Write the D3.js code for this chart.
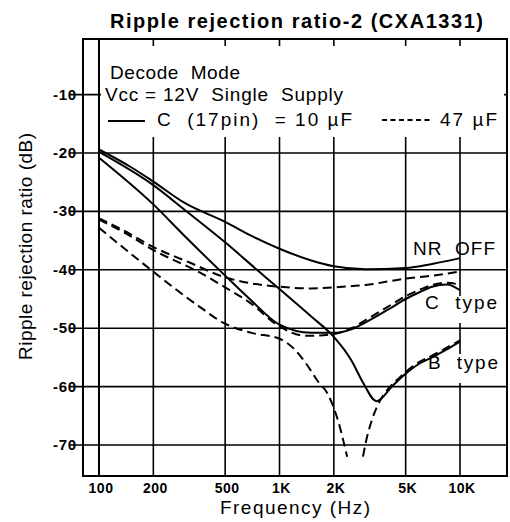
<!DOCTYPE html>
<html><head><meta charset="utf-8">
<script src="https://cdn.jsdelivr.net/npm/d3@7"></script>
<style>
body{margin:0;background:#fff}
svg{display:block}
text{font-family:"Liberation Sans",Arial,Helvetica,sans-serif;fill:#000;white-space:pre}
</style>
</head><body><svg id="c" width="510" height="522"></svg>
<script>
// ---- data ----
const xTicks = [100, 200, 500, 1000, 2000, 5000, 10000];
const xTickLabels = ["100", "200", "500", "1K", "2K", "5K", "10K"];
const yTicks = [-10, -20, -30, -40, -50, -60, -70];
const yTickLabels = ["-10", "-20", "-30", "-40", "-50", "-60", "-70"];

// C(17pin) = 10 µF (solid)
const nrOff10 = [[100,-19.4],[150,-22.4],[200,-24.9],[300,-28.6],[500,-31.8],[700,-34.2],[1000,-36.4],[1500,-38.4],[2000,-39.4],[3000,-39.9],[5000,-39.7],[7000,-39.0],[10000,-38.0]];
const cType10 = [[100,-20.8],[200,-28.8],[300,-34.3],[500,-41.0],[700,-45.3],[1000,-49.4],[1500,-50.8],[2000,-50.8],[2500,-50.2],[3000,-49.0],[4000,-46.8],[5000,-45.0],[6000,-43.8],[7000,-42.9],[8500,-42.5],[10000,-43.5]];
const bType10 = [[100,-19.8],[200,-25.5],[300,-29.8],[500,-35.3],[750,-40.0],[1000,-43.3],[1500,-48.0],[2000,-51.5],[2500,-55.5],[2900,-59.3],[3450,-62.5],[4250,-59.8],[5000,-57.8],[6000,-56.0],[7000,-55.0],[8500,-53.6],[10000,-52.3]];

// C(17pin) = 47 µF (dashed)
const nrOff47 = [[100,-31.2],[136,-33.2],[200,-36.1],[320,-38.8],[490,-41.2],[690,-42.3],[1000,-42.9],[1500,-43.2],[2000,-43.0],[3000,-42.6],[5000,-41.5],[7000,-41.0],[10000,-40.3]];
const cType47 = [[100,-31.4],[136,-33.5],[200,-36.6],[363,-40.5],[500,-43.0],[690,-45.7],[1000,-49.7],[1400,-51.3],[2000,-51.0],[2500,-50.0],[3000,-48.6],[4000,-46.3],[5000,-44.5],[6000,-43.4],[7000,-42.6],[8500,-42.2],[10000,-42.6]];
const bType47Low = [[100,-32.8],[185,-39.5],[363,-46.4],[490,-49.1],[700,-50.8],[1000,-51.8],[1200,-53.5],[1400,-56.0],[1650,-59.3],[1830,-61.0],[2080,-65.2],[2370,-72.0]];
const bType47High = [[2900,-72.0],[3000,-69.7],[3250,-65.7],[3500,-63.2],[4100,-60.0],[4650,-58.4],[5000,-57.5],[6000,-55.7],[7000,-54.7],[8500,-53.3],[10000,-52.1]];

// ---- chart ----
const svg = d3.select("#c");
svg.append("rect").attr("width",510).attr("height",522).attr("fill","#fff");

const x = d3.scaleLog().domain([100, 10000]).range([99, 460]);
const y = d3.scaleLinear().domain([-20, -70]).range([153, 445]);
const frame = {left: 83, right: 507, top: 39, bottom: 476, tickLeft: 69};

const g = svg.append("g");

// vertical grid lines
g.selectAll("line.vg").data(xTicks).join("line")
  .attr("x1", d => x(d)).attr("x2", d => x(d))
  .attr("y1", frame.top).attr("y2", frame.bottom)
  .attr("stroke", "#000").attr("stroke-width", d => d === 100 ? 2 : 1.6);

// horizontal grid lines
g.selectAll("line.hg").data(yTicks).join("line")
  .attr("x1", frame.tickLeft).attr("x2", frame.right)
  .attr("y1", d => y(d)).attr("y2", d => y(d))
  .attr("stroke", "#000").attr("stroke-width", 1.6);

// frame
g.append("path")
  .attr("d", `M${frame.left},${frame.top}H${frame.right}V${frame.bottom}H${frame.left}Z`)
  .attr("fill", "none").attr("stroke", "#000").attr("stroke-width", 2);

// legend background (hides grid behind legend)
g.append("rect").attr("x", 101).attr("y", 46).attr("width", 403).attr("height", 91).attr("fill", "#fff");

// label backgrounds
g.append("rect").attr("x", 420).attr("y", 296).attr("width", 84).attr("height", 27).attr("fill", "#fff");
g.append("rect").attr("x", 420).attr("y", 354).attr("width", 84).attr("height", 29).attr("fill", "#fff");

// curves
const line = d3.line()
  .x(d => x(d[0])).y(d => y(d[1]))
  .curve(d3.curveMonotoneX);

const solid = [nrOff10, cType10, bType10];
const dashed = [nrOff47, cType47, bType47Low, bType47High];

g.selectAll("path.sol").data(solid).join("path")
  .attr("d", line).attr("fill", "none").attr("stroke", "#000")
  .attr("stroke-width", 2).attr("stroke-linejoin", "round");

g.selectAll("path.das").data(dashed).join("path")
  .attr("d", line).attr("fill", "none").attr("stroke", "#000")
  .attr("stroke-width", 2).attr("stroke-dasharray", "9,5");

// axis tick labels
g.selectAll("text.xt").data(xTicks).join("text")
  .attr("x", d => x(d) + 2).attr("y", 493)
  .attr("text-anchor", "middle").attr("font-size", 14).attr("font-weight", "bold")
  .attr("letter-spacing", 0.5)
  .text((d, i) => xTickLabels[i]);

g.selectAll("text.yt").data(yTicks).join("text")
  .attr("x", 77).attr("y", d => y(d) + 5)
  .attr("text-anchor", "end").attr("font-size", 15).attr("font-weight", "bold")
  .attr("letter-spacing", 0.8)
  .text((d, i) => yTickLabels[i]);

// titles
svg.append("text").attr("x", 110).attr("y", 28)
  .attr("font-size", 20).attr("font-weight", "bold")
  .attr("textLength", 373).attr("lengthAdjust", "spacing")
  .text("Ripple rejection ratio-2 (CXA1331)");

svg.append("text").attr("x", 220).attr("y", 514)
  .attr("font-size", 19).attr("textLength", 150).attr("lengthAdjust", "spacing")
  .text("Frequency (Hz)");

svg.append("text").attr("transform", "translate(32,360) rotate(-90)")
  .attr("font-size", 19).attr("textLength", 227).attr("lengthAdjust", "spacing")
  .text("Ripple rejection ratio (dB)");

// legend
svg.append("text").attr("x", 110).attr("y", 79).attr("font-size", 19)
  .attr("textLength", 130).attr("lengthAdjust", "spacing").text("Decode  Mode");
svg.append("text").attr("x", 105).attr("y", 101).attr("font-size", 19)
  .attr("textLength", 238).attr("lengthAdjust", "spacing").text("Vcc = 12V  Single  Supply");
svg.append("line").attr("x1", 108).attr("x2", 145).attr("y1", 121).attr("y2", 121)
  .attr("stroke", "#000").attr("stroke-width", 2);
svg.append("text").attr("x", 157).attr("y", 126).attr("font-size", 19)
  .attr("textLength", 195).attr("lengthAdjust", "spacing").text("C  (17pin)  = 10 µF");
svg.append("line").attr("x1", 382).attr("x2", 432).attr("y1", 120).attr("y2", 120)
  .attr("stroke", "#000").attr("stroke-width", 2).attr("stroke-dasharray", "5,3.5");
svg.append("text").attr("x", 440).attr("y", 126).attr("font-size", 19)
  .attr("textLength", 57).attr("lengthAdjust", "spacing").text("47 µF");

// curve labels
svg.append("text").attr("x", 413).attr("y", 255).attr("font-size", 19)
  .attr("textLength", 82).attr("lengthAdjust", "spacing").text("NR  OFF");
svg.append("text").attr("x", 425).attr("y", 309).attr("font-size", 19)
  .attr("textLength", 72).attr("lengthAdjust", "spacing").text("C  type");
svg.append("text").attr("x", 428).attr("y", 369).attr("font-size", 19)
  .attr("textLength", 70).attr("lengthAdjust", "spacing").text("B  type");
</script>
</body></html>
